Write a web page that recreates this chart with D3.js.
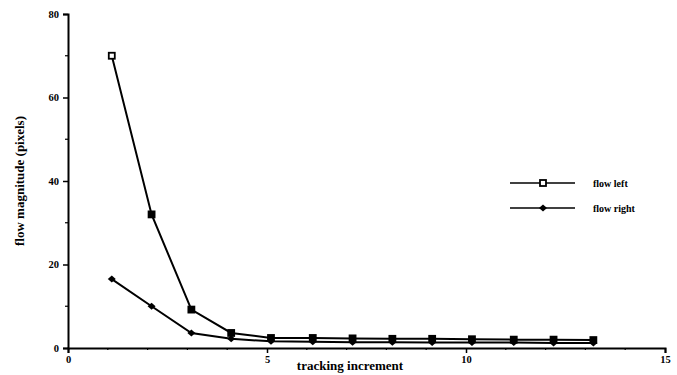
<!DOCTYPE html>
<html><head><meta charset="utf-8">
<script src="https://cdn.jsdelivr.net/npm/d3@7"></script>
<style>body{margin:0;background:#fff}svg{display:block}</style>
</head><body>
<svg id="c" width="677" height="375"></svg>
<script>
const xValues = [1.1, 2.1, 3.1, 4.1, 5.1, 6.15, 7.15, 8.15, 9.15, 10.15, 11.2, 12.2, 13.2];
const flowLeft = [70, 32, 9.2, 3.6, 2.4, 2.4, 2.3, 2.2, 2.2, 2.1, 2.0, 2.0, 1.9];
const flowRight = [16.5, 10, 3.6, 2.2, 1.6, 1.5, 1.4, 1.4, 1.3, 1.3, 1.3, 1.2, 1.2];
const seriesNames = ["flow left", "flow right"];
const xTicks = [0, 5, 10, 15];
const yTicks = [0, 20, 40, 60, 80];

const svg = d3.select("#c");
const font = "'Liberation Serif', 'DejaVu Serif', serif";
const x = d3.scaleLinear().domain([0, 15]).range([68, 665]);
const y = d3.scaleLinear().domain([0, 80]).range([348, 14]);

// axes
const yAxis = d3.axisLeft(y).tickValues(yTicks).tickSize(5).tickPadding(4);
const gy = svg.append("g").attr("transform", `translate(${x(0)},0)`).call(yAxis);
const xAxis = d3.axisBottom(x).tickValues(xTicks).tickSize(5).tickPadding(3);
const gx = svg.append("g").attr("transform", `translate(0,${y(0)})`).call(xAxis);
[gy, gx].forEach(g => {
  g.select(".domain").attr("stroke", "#000").attr("stroke-width", 2);
  g.selectAll(".tick line").attr("stroke", "#000").attr("stroke-width", 1.5);
  g.selectAll(".tick text").attr("font-family", font).attr("font-size", 10.5)
    .attr("font-weight", "bold").attr("fill", "#000");
});
// minor ticks
svg.append("g").selectAll("line").data(d3.range(10, 80, 20)).join("line")
  .attr("x1", x(0) - 3).attr("x2", x(0)).attr("y1", d => y(d)).attr("y2", d => y(d))
  .attr("stroke", "#000").attr("stroke-width", 1.2);
svg.append("g").selectAll("line").data(d3.range(1, 15).filter(d => d % 5)).join("line")
  .attr("x1", d => x(d)).attr("x2", d => x(d)).attr("y1", y(0)).attr("y2", y(0) + 2)
  .attr("stroke", "#000").attr("stroke-width", 1.2);

// axis titles
svg.append("text").attr("x", 350).attr("y", 370).attr("text-anchor", "middle")
  .attr("font-family", font).attr("font-size", 13).attr("font-weight", "bold")
  .text("tracking increment");
svg.append("text").attr("transform", "translate(24,181) rotate(-90)").attr("text-anchor", "middle")
  .attr("font-family", font).attr("font-size", 13).attr("font-weight", "bold")
  .text("flow magnitude (pixels)");

const line = d3.line().x(d => x(d[0])).y(d => y(d[1]));
const leftData = xValues.map((v, i) => [v, flowLeft[i]]);
const rightData = xValues.map((v, i) => [v, flowRight[i]]);

svg.append("path").datum(rightData).attr("d", line).attr("fill", "none")
  .attr("stroke", "#000").attr("stroke-width", 2);
svg.append("path").datum(leftData).attr("d", line).attr("fill", "none")
  .attr("stroke", "#000").attr("stroke-width", 2);

const diamondPath = "M0,-3.5L4,0L0,3.5L-4,0Z";
svg.append("g").selectAll("path").data(rightData).join("path")
  .attr("d", diamondPath).attr("transform", d => `translate(${x(d[0])},${y(d[1])})`)
  .attr("fill", "#000");
svg.append("g").selectAll("rect").data(leftData).join("rect")
  .attr("x", d => x(d[0]) - 3).attr("y", d => y(d[1]) - 3).attr("width", 6).attr("height", 6)
  .attr("fill", (d, i) => i === 0 ? "#fff" : "#000").attr("stroke", "#000").attr("stroke-width", 1.8);

// legend
const legY = [183, 208];
seriesNames.forEach((name, i) => {
  svg.append("line").attr("x1", 510).attr("x2", 575).attr("y1", legY[i]).attr("y2", legY[i])
    .attr("stroke", "#000").attr("stroke-width", 1.5);
  if (i === 0) {
    svg.append("rect").attr("x", 540).attr("y", legY[i] - 3).attr("width", 6).attr("height", 6)
      .attr("fill", "#fff").attr("stroke", "#000").attr("stroke-width", 1.8);
  } else {
    svg.append("path").attr("d", diamondPath).attr("transform", `translate(543,${legY[i]})`).attr("fill", "#000");
  }
  svg.append("text").attr("x", 593).attr("y", legY[i] + 3.5).attr("font-family", font)
    .attr("font-size", 10).attr("font-weight", "bold").text(name);
});
</script>
</body></html>
